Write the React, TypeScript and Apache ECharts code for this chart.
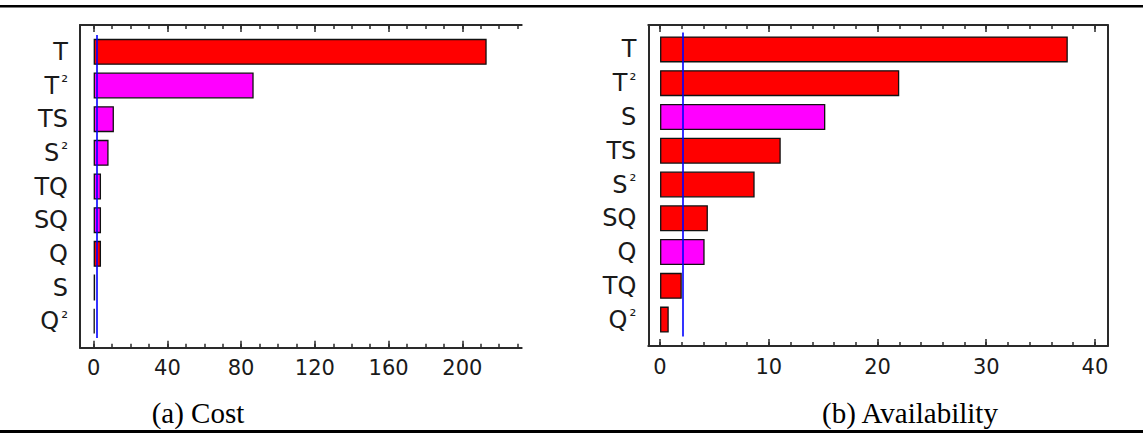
import React, { useEffect, useRef } from 'react';
import * as echarts from 'echarts';

// ---------- Data ----------
const costCategories = ['T', 'T²', 'TS', 'S²', 'TQ', 'SQ', 'Q', 'S', 'Q²'];
const costValues = [213.2, 86.8, 11.0, 8.1, 4.0, 4.0, 4.0, 0.8, 0.6];
const costSigns = [1, -1, -1, -1, -1, -1, 1, -1, -1];
const costCritical = 1.9;
const costMajorTicks = [0, 40, 80, 120, 160, 200];
const costMinorTicks = [0, 10, 20, 30, 40, 50, 60, 70, 80, 90, 100, 110, 120, 130, 140, 150, 160, 170, 180, 190, 200, 210, 220, 230];

const availCategories = ['T', 'T²', 'S', 'TS', 'S²', 'SQ', 'Q', 'TQ', 'Q²'];
const availValues = [37.5, 22.0, 15.2, 11.1, 8.7, 4.4, 4.1, 2.0, 0.8];
const availSigns = [1, 1, -1, 1, 1, 1, -1, 1, 1];
const availCritical = 2.05;
const availMajorTicks = [0, 10, 20, 30, 40];
const availMinorTicks = [0, 2, 4, 6, 8, 10, 12, 14, 16, 18, 20, 22, 24, 26, 28, 30, 32, 34, 36, 38, 40];

const captions = ['(a) Cost', '(b) Availability'];

// ---------- Styles ----------
const RED = '#ff0000';
const MAGENTA = '#ff00ff';
const FRAME = '#2a2a2a';
const TEXT = '#1a1a1a';
const SANS = 'DejaVu Sans';

type Panel = {
  left: number;
  width: number;
  dataTop: number;
  dataBottom: number;
  frameTop: number;
  frameBottom: number;
  min: number;
  max: number;
  cats: string[];
  vals: number[];
  signs: number[];
  crit: number;
  major: number[];
  minor: number[];
  rightBorder: boolean;
};

function buildPanel(p: Panel, gi: number, xi: number, yi: number) {
  const grids = [
    { left: p.left, width: p.width, top: p.dataTop, height: p.dataBottom - p.dataTop, containLabel: false },
    { left: p.left, width: p.width, top: p.frameTop, height: p.frameBottom - p.frameTop, containLabel: false },
  ];
  const line = { color: FRAME, width: 2 };
  const base = { type: 'value', min: p.min, max: p.max, splitLine: { show: false } };
  const xAxes: any[] = [
    { ...base, gridIndex: gi, show: false },
    {
      ...base, gridIndex: gi + 1, position: 'bottom',
      axisLine: { show: true, onZero: false, lineStyle: line },
      axisTick: { show: true, inside: true, length: 7, customValues: p.major, lineStyle: { color: FRAME, width: 1.5 } },
      axisLabel: { show: true, customValues: p.major, margin: 10, fontFamily: SANS, fontSize: 21, color: TEXT },
    },
    {
      ...base, gridIndex: gi + 1, position: 'bottom',
      axisLine: { show: false, onZero: false },
      axisTick: { show: true, inside: true, length: 4, customValues: p.minor, lineStyle: { color: FRAME, width: 1.5 } },
      axisLabel: { show: false },
    },
    {
      ...base, gridIndex: gi + 1, position: 'top',
      axisLine: { show: true, onZero: false, lineStyle: line },
      axisTick: { show: true, inside: true, length: 7, customValues: p.major, lineStyle: { color: FRAME, width: 1.5 } },
      axisLabel: { show: false },
    },
    {
      ...base, gridIndex: gi + 1, position: 'top',
      axisLine: { show: false, onZero: false },
      axisTick: { show: true, inside: true, length: 4, customValues: p.minor, lineStyle: { color: FRAME, width: 1.5 } },
      axisLabel: { show: false },
    },
  ];
  const yAxes: any[] = [
    {
      gridIndex: gi, type: 'category', data: p.cats, inverse: true,
      axisLine: { show: false }, axisTick: { show: false },
      axisLabel: {
        margin: 12,
        formatter: (v: string) => (v.endsWith('²') ? `{b|${v.slice(0, -1)}}{s|²}` : `{b|${v}}`),
        rich: {
          b: { fontFamily: SANS, fontSize: 24, color: TEXT },
          s: { fontFamily: SANS, fontSize: 17, color: TEXT, padding: [0, 0, 0, 2], verticalAlign: 'top' },
        },
      },
    },
    {
      gridIndex: gi + 1, type: 'value', min: 0, max: 1, position: 'left',
      axisLine: { show: true, onZero: false, lineStyle: line },
      axisTick: { show: false }, axisLabel: { show: false }, splitLine: { show: false },
    },
  ];
  if (p.rightBorder) {
    yAxes.push({
      gridIndex: gi + 1, type: 'value', min: 0, max: 1, position: 'right',
      axisLine: { show: true, onZero: false, lineStyle: line },
      axisTick: { show: false }, axisLabel: { show: false }, splitLine: { show: false },
    });
  }
  const series = [
    {
      type: 'bar',
      xAxisIndex: xi,
      yAxisIndex: yi,
      barWidth: 26,
      data: p.vals.map((v, i) => ({ value: v, itemStyle: { color: p.signs[i] > 0 ? RED : MAGENTA } })),
      itemStyle: { borderColor: '#111', borderWidth: 1.3 },
      markLine: {
        silent: true,
        symbol: ['none', 'none'],
        label: { show: false },
        lineStyle: { color: '#0000ff', width: 1.6, type: 'solid' },
        data: [{ xAxis: p.crit }],
      },
    },
  ];
  return { grids, xAxes, yAxes, series };
}

export default function App() {
  const ref = useRef<HTMLDivElement>(null);
  useEffect(() => {
    if (!ref.current) return;
    const chart = echarts.init(ref.current, undefined, { renderer: 'svg' });
    const a = buildPanel(
      {
        left: 80, width: 441.7, dataTop: 35, dataBottom: 338, frameTop: 25, frameBottom: 347.7,
        min: -7.4, max: 232.2, cats: costCategories, vals: costValues, signs: costSigns,
        crit: costCritical, major: costMajorTicks, minor: costMinorTicks, rightBorder: false,
      },
      0, 0, 0,
    );
    const b = buildPanel(
      {
        left: 648.3, width: 459.4, dataTop: 32.5, dataBottom: 336.5, frameTop: 25, frameBottom: 346,
        min: -1.08, max: 41.17, cats: availCategories, vals: availValues, signs: availSigns,
        crit: availCritical, major: availMajorTicks, minor: availMinorTicks, rightBorder: true,
      },
      2, a.xAxes.length, a.yAxes.length,
    );
    chart.setOption({
      animation: false,
      backgroundColor: '#ffffff',
      grid: [...a.grids, ...b.grids],
      xAxis: [...a.xAxes, ...b.xAxes],
      yAxis: [...a.yAxes, ...b.yAxes],
      series: [...a.series, ...b.series],
      graphic: [
        { type: 'rect', shape: { x: 0, y: 5, width: 1143, height: 2.5 }, style: { fill: '#000' } },
        { type: 'rect', shape: { x: 0, y: 430, width: 1143, height: 3 }, style: { fill: '#000' } },
        {
          type: 'text', x: 198, y: 413,
          style: { text: captions[0], fontFamily: 'Liberation Serif', fontSize: 29, fill: '#000', align: 'center', verticalAlign: 'middle' },
        },
        {
          type: 'text', x: 910, y: 413,
          style: { text: captions[1], fontFamily: 'Liberation Serif', fontSize: 29, fill: '#000', align: 'center', verticalAlign: 'middle' },
        },
      ],
    });
    return () => chart.dispose();
  }, []);
  return (
    <div
      ref={ref}
      style={{ position: 'absolute', left: 0, top: 0, width: 1143, height: 433, background: '#fff' }}
    />
  );
}
